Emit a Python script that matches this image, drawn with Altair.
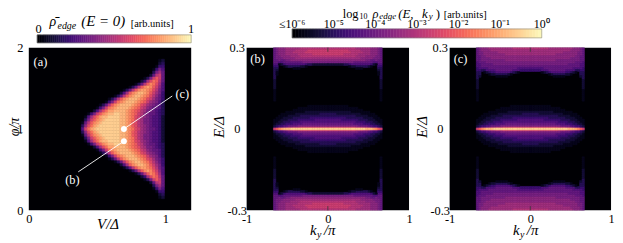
import altair as alt
import pandas as pd

FONT = "Liberation Serif"
BLACK = "#000004"
LEVELS = "0123456789abcdefghijk"

# Panel (a): rows from phi high to phi=1, right-aligned strings, 3px-equivalent cells
A_ROWS = [
    "120", "230", "1440", "14750", "37960", "26ab60", "137bdb60", "249ceda60",
    "136adfec950", "136adfgfdb850", "136adfggfeca750", "259dfghhgfdb9740",
    "136adfghhgfeca8640", "136adfghhhgfecb97640", "147befghhhgfedb987530",
    "136adfghhhhgfecb9876530", "147befghhhhgfedba8766530",
    "259cegghhhhgfedca97765430", "147bdfghhiihhgfedba87665430",
    "159ceghhiiiihhgfecb987655420", "37bdfghiiiiihhgfeca977655420",
    "16adfghiiiiiihhgfdca977655420", "38ceghiiiiiiihhgfdca987655420",
    "05beghiiiiiiiihhgfecb987665420",
]
A_COLS = 30
A_V0 = 50 / 138
A_DV = 3 / 138
A_DPHI = 3 / 82

# Panels (b), (c): quarter maps, columns from k=-0.67 to 0, rows from E=0.3 to 0
B_TOP = [
    "67888999999aaaaaaaaaaaa", "678889999aaaaabbbbbbbbb", "67888999aaaaabbbbbbbbbb",
    "6788899999aaaaaabbbbbbb", "67788889999aaaaaaaaaaaa", "67778888899999999999999",
    "66766778888888888888888", "66556666666677777777777", "55124555555554332222222",
    "44001233333221000000000", "33000000111000000000000", "32", "31", "31", "3",
]
C_TOP = [
    "678889999999999aaaaaaaa", "67888899999999999999999", "67788888899999999999999",
    "67788888888899999999999", "66778888888888888888888", "66777788888888888888888",
    "66777777777788888888888", "56667777777777777777777", "55666667777777777777777",
    "55666666666666666666666", "45555666666666666555555", "44335555666666655544444",
    "33012344555555432100000", "33000122333332100000000", "32000000111110000000000",
]
COMMON = [
    "3", "2", "2", "2", "2", "2", "1", "1", "1", "1", "1", "1", "", "",
    "00000000000000111111111", "00000000001111111111111",
    "00000000111111111111111", "00000111111112222222222",
    "00011111122222222223333", "00111122222333333333333",
    "01112222333333344444444", "11122233334444444555555",
    "11223334444555555555555", "12233444555566666666666",
    "23445566667777777777777", "34667899aaabbbbbbbbbbbb",
]
CENTER = "bdfghhhiiiiiiiiiiiiiiii"
K_COLS = 23
K_START = -0.67
K_STEP = 0.03
E_STEP = 0.3 / 41

CB_TICKS = [-6, -5, -4, -3, -2, -1, 0]
CB_LABELS = ["≤10⁻⁶", "10⁻⁵", "10⁻⁴", "10⁻³", "10⁻²", "10⁻¹", "10⁰"]

DOTS_V = [0.696, 0.696]
DOTS_PHI = [0.85, 1.0]
LINES = [
    {"v": 0.696, "p": 0.85, "v2": 0.362, "p2": 0.472},
    {"v": 0.696, "p": 1.0, "v2": 1.05, "p2": 1.406},
]
A_NOTES = [
    {"v": 0.085, "p": 1.83, "t": "(a)"},
    {"v": 1.123, "p": 1.425, "t": "(c)"},
    {"v": 0.319, "p": 0.366, "t": "(b)"},
]

COLOR = alt.Scale(scheme="magma", domain=[0, 1])
ONE = pd.DataFrame({"a": [0]})


def lv(ch):
    return LEVELS.index(ch) / 20


def cells_a():
    out = []
    n = len(A_ROWS)
    for r, row in enumerate(A_ROWS):
        k = n - 1 - r
        row = row.zfill(A_COLS)
        for i, ch in enumerate(row):
            if ch == "0":
                continue
            x0 = A_V0 + i * A_DV
            for s in ([1, -1] if k else [1]):
                c = 1 + s * k * A_DPHI
                out.append(dict(x0=x0, x1=x0 + A_DV, y0=c - A_DPHI / 2, y1=c + A_DPHI / 2, v=lv(ch)))
    return pd.DataFrame(out)


def cells_k(top):
    rows = [r.ljust(K_COLS, "0") for r in top + COMMON]
    out = []
    edges = [K_START + K_STEP * i for i in range(K_COLS)] + [0.0]
    for t, row in enumerate(rows):
        e0 = 0.3 - t * E_STEP
        e1 = e0 - E_STEP if t < len(rows) - 1 else E_STEP / 2
        for i, ch in enumerate(row):
            if ch == "0":
                continue
            for sx in (1, -1):
                for sy in (1, -1):
                    out.append(dict(x0=sx * edges[i], x1=sx * edges[i + 1], y0=sy * e1, y1=sy * e0, v=lv(ch)))
    for i, ch in enumerate(CENTER):
        for sx in (1, -1):
            out.append(dict(x0=sx * edges[i], x1=sx * edges[i + 1], y0=-E_STEP / 2, y1=E_STEP / 2, v=lv(ch)))
    return pd.DataFrame(out)


def txt(text, x, y, size=12, style="normal", angle=0, align="left", color="black", baseline="alphabetic"):
    return alt.Chart(ONE).mark_text(
        text=text, font=FONT, fontSize=size, fontStyle=style, angle=angle,
        align=align, baseline=baseline, color=color,
    ).encode(x=alt.value(x), y=alt.value(y))


def axis(values, pad, align=None):
    kw = dict(
        values=values, title=None, tickSize=0, domain=False, grid=False,
        labelFont=FONT, labelFontSize=12.5, labelColor="black", labelPadding=pad,
        labelOverlap=False, labelBound=False, labelFlush=False, labelExpr="toString(datum.value)",
    )
    if align:
        kw["labelAlign"] = align
    return alt.Axis(**kw)


def heat(df, sx, sy, ax, ay):
    return alt.Chart(df).mark_rect(strokeWidth=0.5).encode(
        x=alt.X("x0:Q", scale=sx, axis=ax),
        x2="x1:Q",
        y=alt.Y("y0:Q", scale=sy, axis=ay),
        y2="y1:Q",
        color=alt.Color("v:Q", scale=COLOR, legend=None),
        stroke=alt.Stroke("v:Q", scale=COLOR, legend=None),
    )


def backdrop(xa, xb, ya, yb, sx, sy, ax, ay):
    return alt.Chart(pd.DataFrame({"x0": [xa], "x1": [xb], "y0": [ya], "y1": [yb]})).mark_rect(color=BLACK).encode(
        x=alt.X("x0:Q", scale=sx, axis=ax), x2="x1:Q",
        y=alt.Y("y0:Q", scale=sy, axis=ay), y2="y1:Q")


# ---------- panel a (view is 15 px wider than the map, to even out the column gaps)
SX_A = alt.Scale(domain=[0, 179 / 138], nice=False, zero=False)
SY_A = alt.Scale(domain=[0, 2], nice=False, zero=False)
AX_A = axis([0, 1], 2)
AY_A = axis([0, 1, 2], 9, "center")
bg_a = backdrop(0, 164 / 138, 0, 2, SX_A, SY_A, AX_A, AY_A)
h_a = heat(cells_a(), SX_A, SY_A, AX_A, AY_A)
lines = alt.Chart(pd.DataFrame(LINES)).mark_rule(color="white", strokeWidth=0.9).encode(
    x=alt.X("v:Q", scale=SX_A, axis=AX_A), x2="v2:Q",
    y=alt.Y("p:Q", scale=SY_A, axis=AY_A), y2="p2:Q")
dots = alt.Chart(pd.DataFrame({"v": DOTS_V, "p": DOTS_PHI})).mark_circle(color="white", size=36, opacity=1).encode(
    x=alt.X("v:Q", scale=SX_A, axis=AX_A), y=alt.Y("p:Q", scale=SY_A, axis=AY_A))
notes = alt.Chart(pd.DataFrame(A_NOTES)).mark_text(font=FONT, fontSize=12.5, color="white").encode(
    x=alt.X("v:Q", scale=SX_A, axis=AX_A), y=alt.Y("p:Q", scale=SY_A, axis=AY_A), text="t:N")
panel_a = alt.layer(
    bg_a, h_a, lines, dots, notes,
    txt("φ/π", -10, 80, 14, "italic", 270, "center"),
    txt("V/Δ", 80, 183, 15, "italic", 0, "center"),
).properties(width=179, height=164, view=alt.ViewBackground(fill=None, stroke=None))

# ---------- panels b, c
SX_K = alt.Scale(domain=[-1, 1], nice=False, zero=False)
SY_E = alt.Scale(domain=[-0.3, 0.3], nice=False, zero=False)
TICK_ROWS = pd.DataFrame({"x": [0, 0], "y": [0.3, -0.3], "y2": [0.285, -0.285]})


def panel_k(top, name, width):
    ax = axis([-1, 0, 1], 2)
    ay = axis([-0.3, 0, 0.3], 10, "center")
    bg = backdrop(-1, 1, -0.3, 0.3, SX_K, SY_E, ax, ay)
    h = heat(cells_k(top), SX_K, SY_E, ax, ay)
    t = alt.Chart(TICK_ROWS).mark_rule(color="#3a3a3a", strokeWidth=0.8).encode(
        x=alt.X("x:Q", scale=SX_K, axis=ax),
        y=alt.Y("y:Q", scale=SY_E, axis=ay), y2="y2:Q")
    return alt.layer(
        bg, h, t,
        txt(name, 11, 11, 12.5, color="white", align="center", baseline="middle"),
        txt("E/Δ", -23, 80, 15, "italic", 270, "center"),
        txt("k", 64, 189, 15, "italic"),
        txt("y", 71, 192, 10, "italic"),
        txt("/π", 78, 189, 15, "italic"),
    ).properties(width=width, height=164, view=alt.ViewBackground(fill=None, stroke=None))


panel_b = panel_k(B_TOP, "(b)", 164)
panel_c = panel_k(C_TOP, "(c)", 163)

# ---------- colourbars
T = [i / 80 for i in range(80)]
cb_a_df = pd.DataFrame({"x0": T, "x1": [t + 1 / 80 for t in T], "v": T})
sx_cb_a = alt.Scale(domain=[-8.5 / 155.5, 1 + 15 / 155.5], nice=False, zero=False)
cb_a = alt.layer(
    alt.Chart(cb_a_df).mark_rect(strokeWidth=0.5).encode(
        x=alt.X("x0:Q", scale=sx_cb_a, axis=None), x2="x1:Q",
        y=alt.value(6), y2=alt.value(14),
        color=alt.Color("v:Q", scale=COLOR, legend=None),
        stroke=alt.Stroke("v:Q", scale=COLOR, legend=None)),
    alt.Chart(ONE).mark_rect(fill=None, stroke="#777", strokeWidth=0.5).encode(
        x=alt.value(8.5), x2=alt.value(164), y=alt.value(6), y2=alt.value(14)),
    txt("ρ̄", 21, -2.5, 14, "italic"),
    txt("edge", 29, 0, 10, "italic"),
    txt("(E = 0)", 53, -2.5, 15, "italic"),
    txt("[arb.units]", 103, -2, 10.5),
    txt("0", 10, 4.5, 12.5, align="center"),
    txt("1", 164, 4.5, 12.5, align="center"),
).properties(width=179, height=14, view=alt.ViewBackground(fill=None, stroke=None))

# the top bar runs past its own column, over panels (b) and (c)
DEC = 42.0
cb_t_x = [-6 + i / 14 for i in range(84)]
cb_b_df = pd.DataFrame({"x0": cb_t_x, "x1": [t + 1 / 14 for t in cb_t_x], "v": [(t + 6) / 6 for t in cb_t_x]})
sx_cb_b = alt.Scale(domain=[-6 - 46 / DEC, -6 + 118 / DEC], nice=False, zero=False)
cb_lab = pd.DataFrame({"x": CB_TICKS, "t": CB_LABELS})
cb_b = alt.layer(
    alt.Chart(cb_b_df).mark_rect(strokeWidth=0.5).encode(
        x=alt.X("x0:Q", scale=sx_cb_b, axis=None), x2="x1:Q",
        y=alt.value(0), y2=alt.value(9),
        color=alt.Color("v:Q", scale=COLOR, legend=None),
        stroke=alt.Stroke("v:Q", scale=COLOR, legend=None)),
    alt.Chart(ONE).mark_rect(fill=None, stroke="#777", strokeWidth=0.5).encode(
        x=alt.value(46), x2=alt.value(298), y=alt.value(0), y2=alt.value(9)),
    alt.Chart(cb_lab).mark_text(font=FONT, fontSize=12, color="black", baseline="alphabetic").encode(
        x=alt.X("x:Q", scale=sx_cb_b, axis=None), y=alt.value(-1), text="t:N"),
    txt("log", 97, -11.5, 12.5),
    txt("10", 114, -10.5, 8),
    txt("ρ", 127, -11.5, 12.5, "italic"),
    txt("edge", 134, -10.5, 9, "italic"),
    txt("(E,", 153, -11.5, 13, "italic"),
    txt("k", 177, -11.5, 13, "italic"),
    txt("y", 184, -10, 9, "italic"),
    txt(")", 191, -11.5, 13),
    txt("[arb.units]", 199, -11.5, 10.5),
).properties(width=164, height=14, view=alt.ViewBackground(fill=None, stroke=None))

blank = alt.Chart(ONE).mark_point(opacity=0, size=0).encode(x=alt.value(0), y=alt.value(0)).properties(
    width=1, height=14, view=alt.ViewBackground(fill=None, stroke=None))

chart = alt.concat(
    cb_a, cb_b, blank, panel_a, panel_b, panel_c,
    columns=3, align="none", bounds="flush",
    spacing=alt.RowColnumber(row=5, column=41),
).properties(padding={"left": 0, "right": 0, "top": -2, "bottom": 0}, background="white").configure_view(stroke=None)

chart.save("out.html", embed_options={"renderer": "svg", "actions": False})
